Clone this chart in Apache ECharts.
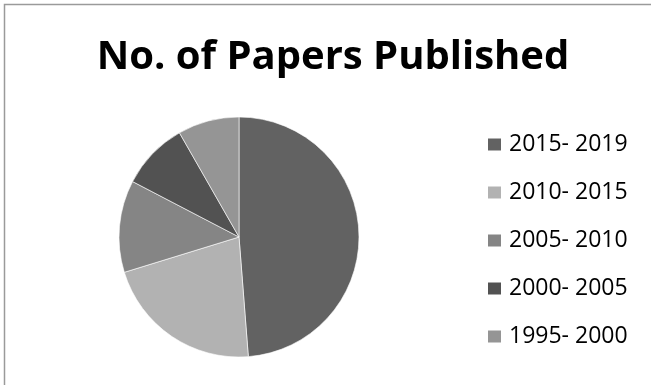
<!DOCTYPE html>
<html>
<head>
<meta charset="utf-8">
<script src="https://cdn.jsdelivr.net/npm/echarts@6/dist/echarts.min.js"></script>
<style>
    html, body { margin: 0; padding: 0; background: #fff; }
    #chart { width: 651px; height: 385px; }
</style>
</head>
<body>
<div id="chart"></div>
<script>
// 时间段与论文数量
const periods = ['2015- 2019', '2010- 2015', '2005- 2010', '2000- 2005', '1995- 2000'];
const papers = [59, 26, 15, 11, 10];
const colors = ['#626262', '#b2b2b2', '#858585', '#525252', '#959595'];

const chart = echarts.init(document.getElementById('chart'));

chart.setOption({
    animation: false,
    color: colors,
    title: {
        text: 'No. of Papers Published',
        left: 328,
        top: 33,
        textAlign: 'center',
        textStyle: {
            fontFamily: 'Open Sans',
            fontWeight: 'bold',
            fontSize: 40,
            color: '#000'
        }
    },
    legend: {
        orient: 'vertical',
        left: 481,
        top: 128,
        itemWidth: 15,
        itemHeight: 14,
        itemGap: 25,
        icon: 'rect',
        textStyle: {
            fontFamily: 'Open Sans',
            fontSize: 23,
            color: '#000',
            padding: [0, 0, 0, 2]
        },
        data: periods
    },
    graphic: [
        {
            type: 'polyline',
            shape: { points: [[4.5, 385], [4.5, 4.5], [651, 4.5]] },
            style: { stroke: '#9a9a9a', lineWidth: 1.5, fill: null }
        }
    ],
    series: [{
        type: 'pie',
        center: [239, 237],
        radius: 120,
        startAngle: 90,
        clockwise: true,
        label: { show: false },
        labelLine: { show: false },
        emphasis: { disabled: true },
        itemStyle: { borderColor: '#fff', borderWidth: 0.6 },
        data: periods.map((name, i) => ({ name, value: papers[i] }))
    }]
});
</script>
</body>
</html>
